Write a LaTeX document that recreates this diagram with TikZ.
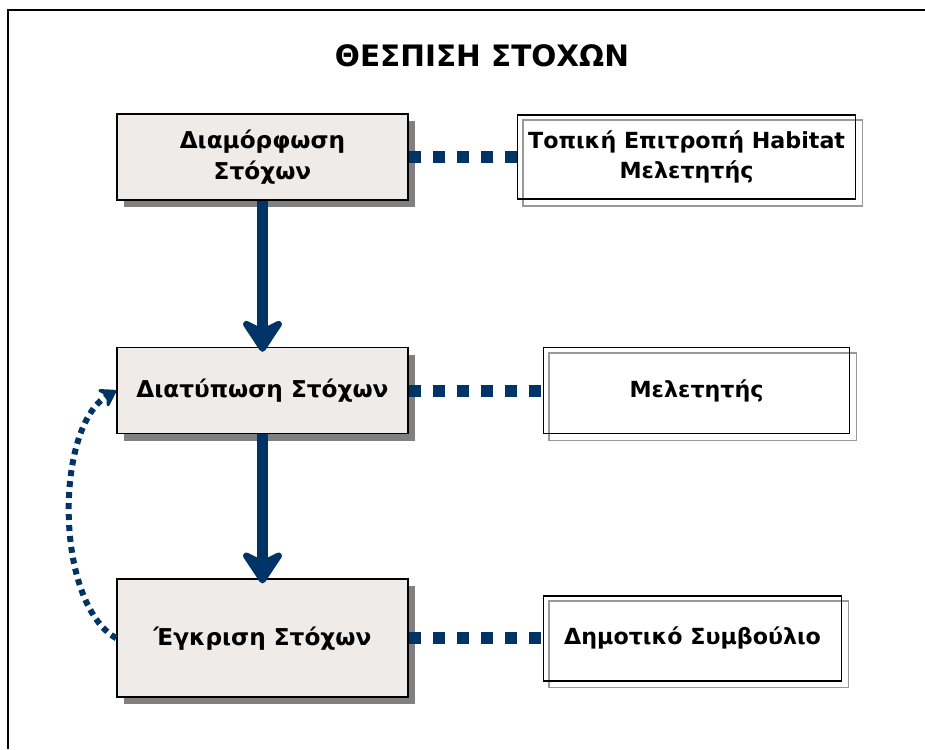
\documentclass[tikz,border=0pt]{standalone}
\usepackage{fontspec}
\setmainfont{DejaVu Sans}
\usetikzlibrary{positioning,shadows,arrows.meta,backgrounds}
\definecolor{navy}{RGB}{0,51,102}
\definecolor{stepfill}{RGB}{238,235,232}
\begin{document}
\begin{tikzpicture}[x=1pt,y=1pt,
	stepbox/.style={draw, line width=1.6pt, fill=stepfill, minimum width=291pt, minimum height=86pt, align=center,
		font=\bfseries\fontsize{23.2}{31}\selectfont,
		drop shadow={shadow xshift=7pt, shadow yshift=-7pt, fill=black!50, opacity=1}},
	partybox/.style={draw, line width=1.6pt, minimum height=85pt, align=center, font=\bfseries\fontsize{22.2}{30}\selectfont},
	flow/.style={draw=navy, line width=11pt, shorten >=-5pt, -{Stealth[round, length=38pt, width=50pt, inset=12pt]}},
	link/.style={draw=navy, line width=12pt, dash pattern=on 12pt off 12pt},
	back/.style={draw=navy, line width=6pt, dash pattern=on 6pt off 5pt, -{Stealth[round, length=20pt, width=26pt, inset=8pt]}}]
	\useasboundingbox (0,0) rectangle (925,-749);
	\draw[line width=1.6pt] (925,-10) -- (8,-10) -- (8,-749);

	\node (title) at (482,-56) {\bfseries\fontsize{29.5}{32}\selectfont ΘΕΣΠΙΣΗ ΣΤΟΧΩΝ};

	\node (s1) [stepbox] at (262.5,-157) {Διαμόρφωση\\Στόχων};
	\node (s2) [stepbox, below=146pt of s1] {Διατύπωση Στόχων};
	\node (s3) [stepbox, below=144pt of s2, minimum height=118pt] {Έγκριση Στόχων};

	\node (p1) [partybox, right=108pt of s1, minimum width=338pt, minimum height=84pt] {Τοπική Επιτροπή Habitat\\Μελετητής};
	\node (p2) [partybox, right=134pt of s2, minimum width=306pt, minimum height=86pt] {Μελετητής};
	\node (p3) [partybox, right=134pt of s3, minimum width=298pt] {Δημοτικό Συμβούλιο};

	\begin{scope}[on background layer]
		\draw[black!40, line width=1.6pt] ([shift={(6pt,-6pt)}]p1.south west) rectangle ([shift={(6pt,-6pt)}]p1.north east);
		\draw[black!40, line width=1.6pt] ([shift={(6pt,-6pt)}]p2.south west) rectangle ([shift={(6pt,-6pt)}]p2.north east);
		\draw[black!40, line width=1.6pt] ([shift={(6pt,-6pt)}]p3.south west) rectangle ([shift={(6pt,-6pt)}]p3.north east);
	\end{scope}

	\draw[flow] (s1) -- (s2);
	\draw[flow] (s2) -- (s3);
	\draw[link] (s1) -- (p1);
	\draw[link] (s2) -- (p2);
	\draw[link] (s3) -- (p3);
	\draw[back] (s3.west) to[out=150, in=210, looseness=0.74] (s2.west);
\end{tikzpicture}
\end{document}
